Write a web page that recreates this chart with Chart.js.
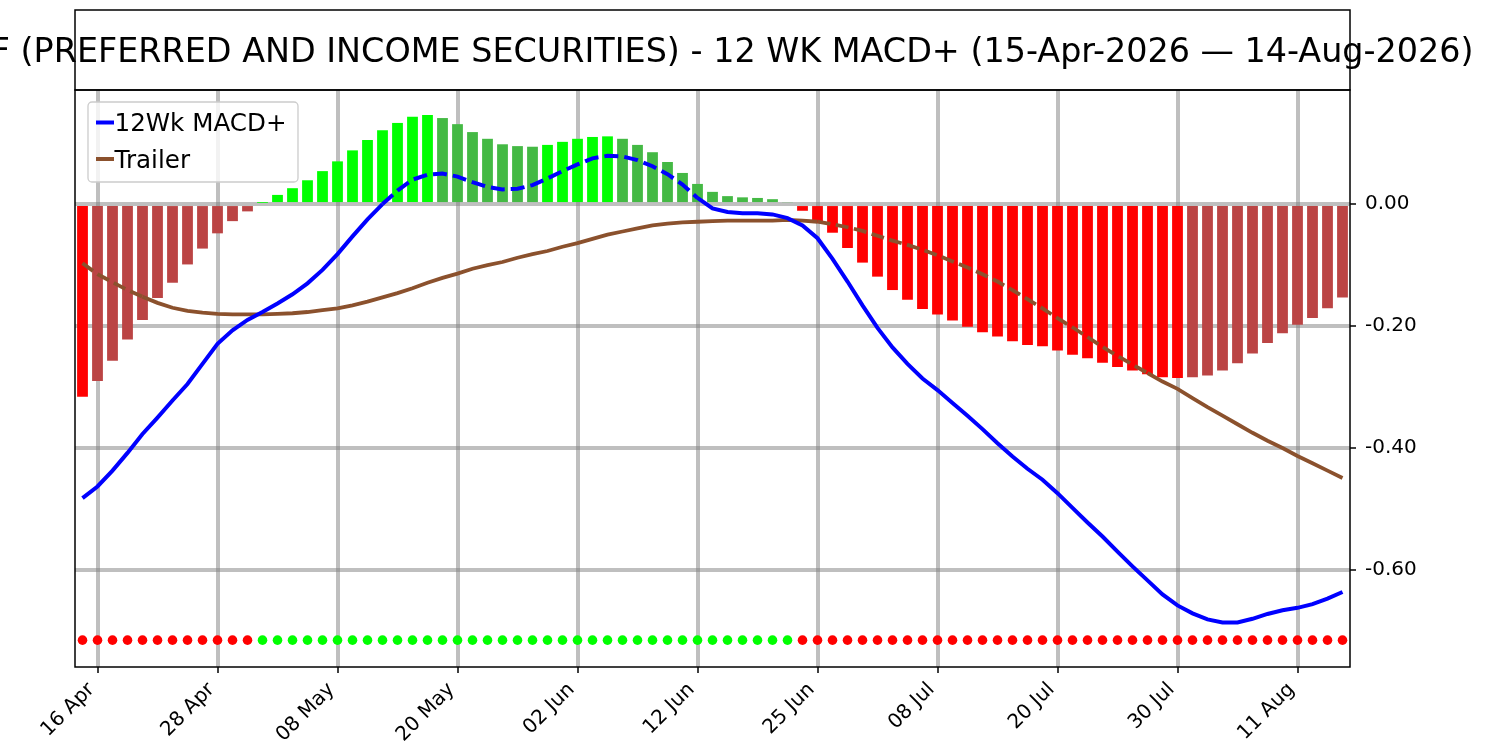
<!DOCTYPE html>
<html>
<head>
<meta charset="utf-8">
<script src="https://cdn.jsdelivr.net/npm/chart.js@4.4.1/dist/chart.umd.min.js"></script>
<style>
  html, body { margin: 0; padding: 0; background: #fff; }
  #wrap { width: 1500px; height: 750px; }
</style>
</head>
<body>
<div id="wrap"><canvas id="macdChart" width="1500" height="750"></canvas></div>
<script>
const chartTitle = 'PFF (PREFERRED AND INCOME SECURITIES) - 12 WK MACD+ (15-Apr-2026 \u2014 14-Aug-2026)';
const seriesNames = ['12Wk MACD+', 'Trailer'];

// trading days, 15 Apr - 14 Aug 2026
const days = [
  '15 Apr','16 Apr','17 Apr','20 Apr','21 Apr','22 Apr','23 Apr','24 Apr','27 Apr','28 Apr','29 Apr','30 Apr',
  '01 May','04 May','05 May','06 May','07 May','08 May','11 May','12 May','13 May','14 May','15 May','18 May',
  '19 May','20 May','21 May','22 May','26 May','27 May','28 May','29 May',
  '01 Jun','02 Jun','03 Jun','04 Jun','05 Jun','08 Jun','09 Jun','10 Jun','11 Jun','12 Jun','15 Jun','16 Jun',
  '17 Jun','18 Jun','22 Jun','23 Jun','24 Jun','25 Jun','26 Jun','29 Jun','30 Jun',
  '01 Jul','02 Jul','06 Jul','07 Jul','08 Jul','09 Jul','10 Jul','13 Jul','14 Jul','15 Jul','16 Jul','17 Jul',
  '20 Jul','21 Jul','22 Jul','23 Jul','24 Jul','27 Jul','28 Jul','29 Jul','30 Jul','31 Jul',
  '03 Aug','04 Aug','05 Aug','06 Aug','07 Aug','10 Aug','11 Aug','12 Aug','13 Aug','14 Aug'
];

const macd = [
  -0.482, -0.463, -0.437, -0.408, -0.377, -0.350, -0.322, -0.295, -0.262, -0.229,
  -0.207, -0.190, -0.177, -0.163, -0.148, -0.130, -0.108, -0.082, -0.053, -0.025,
   0.000,  0.022,  0.040,  0.048,  0.050,  0.045,  0.036,  0.028,  0.024,  0.025,
   0.031,  0.042,  0.054,  0.065,  0.075,  0.079,  0.078,  0.072,  0.062,  0.049,
   0.032,  0.010, -0.007, -0.013, -0.015, -0.015, -0.017, -0.023, -0.035, -0.056,
  -0.090, -0.127, -0.166, -0.203, -0.235, -0.262, -0.286, -0.305, -0.326, -0.347,
  -0.369, -0.392, -0.414, -0.434, -0.452, -0.474, -0.498, -0.522, -0.545, -0.570,
  -0.594, -0.617, -0.640, -0.658, -0.671, -0.681, -0.686, -0.686, -0.680, -0.672,
  -0.666, -0.662, -0.656, -0.647, -0.636
];

const trailer = [
  -0.097, -0.115, -0.128, -0.141, -0.152, -0.162, -0.170, -0.175, -0.178, -0.180,
  -0.181, -0.181, -0.181, -0.180, -0.179, -0.177, -0.174, -0.171, -0.166, -0.160,
  -0.153, -0.146, -0.138, -0.129, -0.121, -0.114, -0.106, -0.100, -0.095, -0.088,
  -0.082, -0.077, -0.070, -0.064, -0.057, -0.050, -0.045, -0.040, -0.035, -0.032,
  -0.030, -0.029, -0.028, -0.027, -0.027, -0.027, -0.027, -0.026, -0.027, -0.029,
  -0.033, -0.038, -0.044, -0.052, -0.060, -0.067, -0.075, -0.084, -0.094, -0.104,
  -0.115, -0.127, -0.141, -0.156, -0.171, -0.187, -0.202, -0.218, -0.234, -0.249,
  -0.263, -0.277, -0.291, -0.303, -0.318, -0.333, -0.347, -0.361, -0.375, -0.388,
  -0.400, -0.413, -0.425, -0.437, -0.449
];

const hist = [
  -0.316, -0.290, -0.257, -0.222, -0.190, -0.154, -0.129, -0.099, -0.073, -0.048,
  -0.028, -0.012,  0.002,  0.015,  0.026,  0.039,  0.054,  0.070,  0.088,  0.105,
   0.121,  0.133,  0.143,  0.146,  0.141,  0.131,  0.118,  0.107,  0.098,  0.095,
   0.094,  0.097,  0.102,  0.107,  0.110,  0.111,  0.107,  0.097,  0.085,  0.069,
   0.051,  0.033,  0.020,  0.013,  0.011,  0.010,  0.008,  0.003, -0.011, -0.031,
  -0.047, -0.072, -0.096, -0.119, -0.141, -0.157, -0.172, -0.181, -0.191, -0.201,
  -0.210, -0.217, -0.225, -0.231, -0.233, -0.240, -0.247, -0.253, -0.260, -0.267,
  -0.273, -0.279, -0.284, -0.285, -0.284, -0.281, -0.273, -0.261, -0.245, -0.228,
  -0.212, -0.198, -0.187, -0.171, -0.153
];

const signalLevel = -0.715;          // row of dots under the plot
const yTicks = [0, -0.2, -0.4, -0.6];
const yMin = -0.759, yMax = 0.187;
const labelEvery = 8, labelFirst = 1;

const BLUE = '#0000ff', BROWN = '#8b512d';
const LIME = '#00ff00', DKGREEN = '#44b944', RED = '#ff0000', DKRED = '#bb4444';
const GRID = 'rgba(128,128,128,0.5)';

Chart.defaults.font.family = '"DejaVu Sans", sans-serif';

const barColors = hist.map((v, i) => {
  const prev = i > 0 ? hist[i - 1] : 0;
  if (v >= 0) return v > prev ? LIME : DKGREEN;
  return v < prev ? RED : DKRED;
});
const dotColors = hist.map(v => v > 0 ? LIME : RED);

// line goes dashed where it runs inside the histogram bar
function inBar(v, h) {
  return h >= 0 ? (v >= 0 && v <= h) : (v <= 0 && v >= h);
}
function dashIf(series, pattern) {
  return c => (inBar(series[c.p0DataIndex], hist[c.p0DataIndex]) &&
               inBar(series[c.p1DataIndex], hist[c.p1DataIndex])) ? pattern : undefined;
}
const isLabelled = i => i % labelEvery === labelFirst;

const decor = {
  id: 'decor',
  afterDraw(chart) {
    const { ctx, chartArea: a } = chart;
    ctx.save();
    ctx.strokeStyle = '#000';
    ctx.lineWidth = 1.5;
    ctx.strokeRect(a.left, 10, a.right - a.left, a.top - 10);
    ctx.strokeRect(a.left, a.top, a.right - a.left, a.bottom - a.top);

    ctx.fillStyle = '#000';
    ctx.font = '33.4px "DejaVu Sans"';
    ctx.textAlign = 'center';
    ctx.textBaseline = 'alphabetic';
    ctx.fillText(chartTitle, (a.left + a.right) / 2, 62);

    // legend
    const lx = a.left + 13, ly = a.top + 12, lw = 210, lh = 80, r = 4;
    ctx.beginPath();
    ctx.moveTo(lx + r, ly);
    ctx.arcTo(lx + lw, ly, lx + lw, ly + lh, r);
    ctx.arcTo(lx + lw, ly + lh, lx, ly + lh, r);
    ctx.arcTo(lx, ly + lh, lx, ly, r);
    ctx.arcTo(lx, ly, lx + lw, ly, r);
    ctx.closePath();
    ctx.fillStyle = 'rgba(255,255,255,0.8)';
    ctx.fill();
    ctx.strokeStyle = '#cccccc';
    ctx.lineWidth = 1.3;
    ctx.stroke();

    const items = [[seriesNames[0], BLUE, ly + 20.5], [seriesNames[1], BROWN, ly + 57]];
    ctx.font = '24.6px "DejaVu Sans"';
    ctx.textAlign = 'left';
    items.forEach(([txt, col, y]) => {
      ctx.strokeStyle = col;
      ctx.lineWidth = 4;
      ctx.beginPath();
      ctx.moveTo(lx + 8, y);
      ctx.lineTo(lx + 26, y);
      ctx.stroke();
      ctx.fillStyle = '#000';
      ctx.fillText(txt, lx + 26.5, y + 8.7);
    });
    ctx.restore();
  }
};

new Chart(document.getElementById('macdChart'), {
  type: 'bar',
  data: {
    labels: days,
    datasets: [
      {
        type: 'line', label: seriesNames[0], data: macd,
        borderColor: BLUE, borderWidth: 4, pointRadius: 0, tension: 0, order: 1,
        segment: { borderDash: dashIf(macd, [14, 6]) }
      },
      {
        type: 'line', label: seriesNames[1], data: trailer,
        borderColor: BROWN, borderWidth: 3.8, pointRadius: 0, tension: 0, order: 2,
        segment: { borderDash: dashIf(trailer, [13, 5.5]) }
      },
      {
        type: 'line', label: 'signal', data: days.map(() => signalLevel),
        showLine: false, pointRadius: 4.8, pointHoverRadius: 4.8,
        pointBackgroundColor: dotColors, pointBorderWidth: 0, order: 3
      },
      {
        type: 'bar', label: 'hist', data: hist, backgroundColor: barColors,
        barPercentage: 0.72, categoryPercentage: 1.0, order: 4
      }
    ]
  },
  options: {
    responsive: false,
    animation: false,
    layout: { padding: { left: 75, top: 90, right: 0, bottom: 0 } },
    plugins: { legend: { display: false }, tooltip: { enabled: false }, title: { display: false } },
    scales: {
      x: {
        offset: true,
        z: 1,
        border: { display: false },
        grid: {
          offset: false,
          color: c => isLabelled(c.index) ? GRID : 'transparent',
          lineWidth: 4,
          tickColor: c => isLabelled(c.index) ? '#000' : 'transparent',
          tickLength: 6,
          tickWidth: 1.5
        },
        ticks: {
          autoSkip: false, maxRotation: 45, minRotation: 45, padding: 5, labelOffset: -6,
          color: '#000', font: { size: 20 },
          callback: (v, i) => isLabelled(i) ? days[i] : ''
        },
        afterFit: s => { s.height = 83; }
      },
      y: {
        position: 'right',
        min: yMin, max: yMax,
        z: 1,
        border: { display: false },
        afterBuildTicks: s => { s.ticks = yTicks.map(v => ({ value: v })); },
        grid: { color: GRID, lineWidth: 4, tickColor: '#000', tickLength: 6, tickWidth: 1.5 },
        ticks: { color: '#000', font: { size: 20 }, padding: 9, callback: v => v.toFixed(2) },
        afterFit: s => { s.width = 150; }
      }
    }
  },
  plugins: [decor]
});
</script>
</body>
</html>
